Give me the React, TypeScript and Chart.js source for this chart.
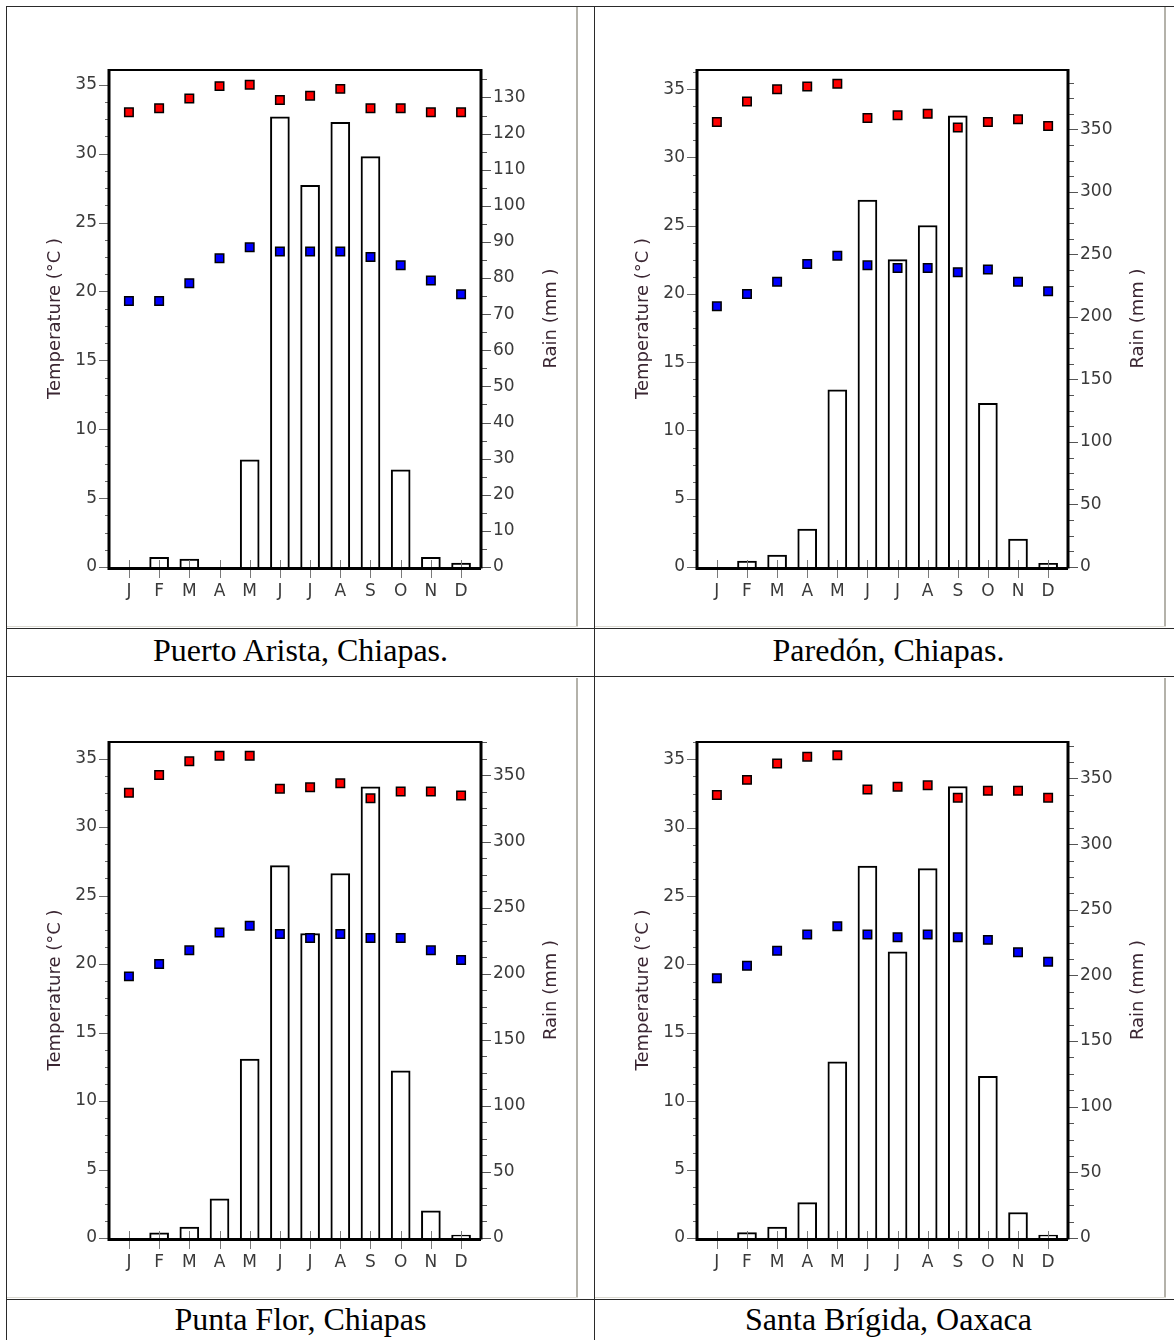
import React, { useEffect, useRef } from 'react';
import { Chart, registerables } from 'chart.js';

Chart.register(...registerables);

// ---------- data ----------
const months = ['J', 'F', 'M', 'A', 'M', 'J', 'J', 'A', 'S', 'O', 'N', 'D'];
const monthNumbers = [1, 2, 3, 4, 5, 6, 7, 8, 9, 10, 11, 12];

const tempTicks = [0, 5, 10, 15, 20, 25, 30, 35];
const rainTicksSmall = [0, 10, 20, 30, 40, 50, 60, 70, 80, 90, 100, 110, 120, 130];
const rainTicksLarge = [0, 50, 100, 150, 200, 250, 300, 350];

const puertoAristaTmax = [33.0, 33.3, 34.0, 34.9, 35.0, 33.9, 34.2, 34.7, 33.3, 33.3, 33.0, 33.0];
const puertoAristaTmin = [19.3, 19.3, 20.6, 22.4, 23.2, 22.9, 22.9, 22.9, 22.5, 21.9, 20.8, 19.8];
const puertoAristaRain = [0, 2.7, 2.2, 0, 29.7, 124.6, 105.7, 123.1, 113.6, 26.9, 2.7, 1.1];

const paredonTmax = [32.6, 34.1, 35.0, 35.2, 35.4, 32.9, 33.1, 33.2, 32.2, 32.6, 32.8, 32.3];
const paredonTmin = [19.1, 20.0, 20.9, 22.2, 22.8, 22.1, 21.9, 21.9, 21.6, 21.8, 20.9, 20.2];
const paredonRain = [0, 4.8, 9.6, 30.3, 141.8, 293.4, 245.9, 273.1, 360.9, 130.9, 22.3, 2.9];

const puntaFlorTmax = [32.5, 33.8, 34.8, 35.2, 35.2, 32.8, 32.9, 33.2, 32.1, 32.6, 32.6, 32.3];
const puntaFlorTmin = [19.1, 20.0, 21.0, 22.3, 22.8, 22.2, 21.9, 22.2, 21.9, 21.9, 21.0, 20.3];
const puntaFlorRain = [0, 4.0, 8.3, 29.7, 135.4, 281.8, 230.4, 275.8, 341.4, 126.4, 20.6, 2.3];

const santaBrigidaTmax = [32.4, 33.5, 34.7, 35.2, 35.3, 32.8, 33.0, 33.1, 32.2, 32.7, 32.7, 32.2];
const santaBrigidaTmin = [19.0, 19.9, 21.0, 22.2, 22.8, 22.2, 22.0, 22.2, 22.0, 21.8, 20.9, 20.2];
const santaBrigidaRain = [0, 4.1, 8.4, 27.0, 134.2, 283.3, 217.9, 281.3, 343.9, 123.2, 19.4, 2.3];

const stationNames = ['Puerto Arista, Chiapas.', 'Paredón, Chiapas.', 'Punta Flor, Chiapas', 'Santa Brígida, Oaxaca'];
const tempAxisMax = [36.07, 36.41, 36.21, 36.27];
const rainAxisMax = [137.6, 397.5, 375.3, 377.8];

// ---------- layout ----------
type Station = {
  tmax: number[];
  tmin: number[];
  rain: number[];
  tempMax: number;
  rainMax: number;
  rainTicks: number[];
  rainMinorStep: number;
  canvas: [number, number, number, number];
  plot: [number, number, number, number];
};

const stations: Station[] = [
  { tmax: puertoAristaTmax, tmin: puertoAristaTmin, rain: puertoAristaRain, tempMax: tempAxisMax[0], rainMax: rainAxisMax[0], rainTicks: rainTicksSmall, rainMinorStep: 5, canvas: [8, 8, 568, 618], plot: [109, 70, 481, 567] },
  { tmax: paredonTmax, tmin: paredonTmin, rain: paredonRain, tempMax: tempAxisMax[1], rainMax: rainAxisMax[1], rainTicks: rainTicksLarge, rainMinorStep: 12.5, canvas: [596, 8, 568, 618], plot: [697, 70, 1068, 567] },
  { tmax: puntaFlorTmax, tmin: puntaFlorTmin, rain: puntaFlorRain, tempMax: tempAxisMax[2], rainMax: rainAxisMax[2], rainTicks: rainTicksLarge, rainMinorStep: 12.5, canvas: [8, 678, 568, 620], plot: [109, 742, 481, 1238] },
  { tmax: santaBrigidaTmax, tmin: santaBrigidaTmin, rain: santaBrigidaRain, tempMax: tempAxisMax[3], rainMax: rainAxisMax[3], rainTicks: rainTicksLarge, rainMinorStep: 12.5, canvas: [596, 678, 568, 620], plot: [697, 742, 1068, 1238] },
];

const TICK_FONT = { family: 'DejaVu Sans', size: 17 };
const TICK_COLOR = '#3a3a3a';
const TITLE_COLOR = '#3a2632';

function minorValues(step: number, max: number, majorStep: number): number[] {
  const out: number[] = [];
  for (let v = step; v <= max + 1e-9; v += step) {
    if (Math.abs(v / majorStep - Math.round(v / majorStep)) > 1e-6) out.push(v);
  }
  return out;
}

function ClimateChart({ s }: { s: Station }) {
  const ref = useRef<HTMLCanvasElement>(null);
  useEffect(() => {
    const [cx, cy, cw, ch] = s.canvas;
    const [pl, pt, pr, pb] = s.plot;
    const leftW = pl - cx;
    const rightW = cx + cw - pr;
    const padTop = pt - cy;
    const xH = cy + ch - pb;
    const rainMajorStep = s.rainTicks[1] - s.rainTicks[0];
    const tempMinor = minorValues(1.25, s.tempMax, 5);
    const rainMinor = minorValues(s.rainMinorStep, s.rainMax, rainMajorStep);

    const framePlugin = {
      id: 'climateFrame',
      afterDatasetsDraw(chart: any) {
        const { ctx, chartArea } = chart;
        const { left, right, top, bottom } = chartArea;
        const x = chart.scales.x;
        const y = chart.scales.y;
        const yR = chart.scales.yR;
        ctx.save();
        // month ticks
        ctx.strokeStyle = '#7a7a7a';
        ctx.lineWidth = 1;
        monthNumbers.forEach((m) => {
          const px = Math.round(x.getPixelForValue(m)) + 0.5;
          ctx.beginPath();
          ctx.moveTo(px, bottom - 7);
          ctx.lineTo(px, bottom + 11);
          ctx.stroke();
        });
        // left ticks
        ctx.strokeStyle = '#6a6a6a';
        tempTicks.forEach((v) => {
          const py = Math.round(y.getPixelForValue(v)) + 0.5;
          ctx.beginPath();
          ctx.moveTo(left - 10, py);
          ctx.lineTo(left, py);
          ctx.stroke();
        });
        tempMinor.forEach((v) => {
          const py = Math.round(y.getPixelForValue(v)) + 0.5;
          ctx.beginPath();
          ctx.moveTo(left - 4, py);
          ctx.lineTo(left, py);
          ctx.stroke();
        });
        // right ticks
        ctx.strokeStyle = '#555555';
        s.rainTicks.forEach((v) => {
          const py = Math.round(yR.getPixelForValue(v)) + 0.5;
          ctx.beginPath();
          ctx.moveTo(right, py);
          ctx.lineTo(right + 10, py);
          ctx.stroke();
        });
        rainMinor.forEach((v) => {
          const py = Math.round(yR.getPixelForValue(v)) + 0.5;
          ctx.beginPath();
          ctx.moveTo(right, py);
          ctx.lineTo(right + 6, py);
          ctx.stroke();
        });
        // frame
        ctx.strokeStyle = '#000';
        ctx.lineWidth = 2;
        ctx.beginPath();
        ctx.moveTo(left, top);
        ctx.lineTo(right, top);
        ctx.stroke();
        ctx.lineWidth = 3;
        ctx.beginPath();
        ctx.moveTo(left, top - 1);
        ctx.lineTo(left, bottom + 1.5);
        ctx.lineTo(right, bottom + 1.5);
        ctx.moveTo(right, top - 1);
        ctx.lineTo(right, bottom + 1.5);
        ctx.stroke();
        // axis titles
        ctx.fillStyle = TITLE_COLOR;
        ctx.font = '18px "DejaVu Sans"';
        ctx.textAlign = 'center';
        ctx.textBaseline = 'middle';
        const mid = (top + bottom) / 2;
        ctx.save();
        ctx.translate(left - 54, mid);
        ctx.rotate(-Math.PI / 2);
        ctx.fillText('Temperature (°C )', 0, 0);
        ctx.restore();
        ctx.save();
        ctx.translate(right + 70, mid);
        ctx.rotate(-Math.PI / 2);
        ctx.fillText('Rain (mm )', 0, 0);
        ctx.restore();
        ctx.restore();
      },
    };

    const zeroPad = (sc: any) => {
      sc.paddingLeft = 0;
      sc.paddingRight = 0;
      sc.paddingTop = 0;
      sc.paddingBottom = 0;
    };

    const chart = new Chart(ref.current as HTMLCanvasElement, {
      type: 'bar',
      data: {
        datasets: [
          {
            type: 'scatter',
            label: 'Tmax',
            data: s.tmax.map((v, i) => ({ x: monthNumbers[i], y: v })),
            yAxisID: 'y',
            pointStyle: 'rect',
            pointRadius: 6,
            pointHoverRadius: 6,
            backgroundColor: '#ff0000',
            borderColor: '#000000',
            borderWidth: 1.5,
            order: 0,
          } as any,
          {
            type: 'scatter',
            label: 'Tmin',
            data: s.tmin.map((v, i) => ({ x: monthNumbers[i], y: v })),
            yAxisID: 'y',
            pointStyle: 'rect',
            pointRadius: 6,
            pointHoverRadius: 6,
            backgroundColor: '#0000ff',
            borderColor: '#000000',
            borderWidth: 1.5,
            order: 0,
          } as any,
          {
            type: 'bar',
            label: 'Rain',
            data: s.rain.map((v, i) => ({ x: monthNumbers[i], y: v })),
            yAxisID: 'yR',
            backgroundColor: '#ffffff',
            borderColor: '#000000',
            borderWidth: 2,
            barThickness: 19,
            order: 1,
          } as any,
        ],
      },
      options: {
        responsive: false,
        animation: false,
        events: [],
        layout: { padding: { top: padTop, left: 0, right: 0, bottom: 0 } },
        plugins: { legend: { display: false }, tooltip: { enabled: false }, title: { display: false } },
        scales: {
          x: {
            type: 'linear',
            position: 'bottom',
            min: 1 - 0.66,
            max: 12 + 0.66,
            offset: false,
            grid: { display: false, drawTicks: false },
            border: { display: false },
            afterBuildTicks: (sc: any) => {
              sc.ticks = monthNumbers.map((v) => ({ value: v }));
            },
            afterFit: (sc: any) => {
              sc.height = xH;
              zeroPad(sc);
            },
            ticks: {
              autoSkip: false,
              maxRotation: 0,
              minRotation: 0,
              padding: 14,
              color: TICK_COLOR,
              font: TICK_FONT,
              callback: (v: any) => months[Number(v) - 1] ?? '',
            },
          },
          y: {
            type: 'linear',
            position: 'left',
            min: 0,
            max: s.tempMax,
            grid: { display: false, drawTicks: false },
            border: { display: false },
            afterBuildTicks: (sc: any) => {
              sc.ticks = tempTicks.map((v) => ({ value: v }));
            },
            afterFit: (sc: any) => {
              sc.width = leftW;
              zeroPad(sc);
            },
            ticks: { autoSkip: false, padding: 12, color: TICK_COLOR, font: TICK_FONT, callback: (v: any) => String(v) },
          },
          yR: {
            type: 'linear',
            position: 'right',
            min: 0,
            max: s.rainMax,
            grid: { display: false, drawTicks: false },
            border: { display: false },
            afterBuildTicks: (sc: any) => {
              sc.ticks = s.rainTicks.map((v) => ({ value: v }));
            },
            afterFit: (sc: any) => {
              sc.width = rightW;
              zeroPad(sc);
            },
            ticks: { autoSkip: false, padding: 12, color: TICK_COLOR, font: TICK_FONT, callback: (v: any) => String(v) },
          },
        },
      } as any,
      plugins: [framePlugin],
    });
    return () => chart.destroy();
  }, [s]);

  const [cx, cy, cw, ch] = s.canvas;
  return (
    <canvas
      ref={ref}
      width={cw}
      height={ch}
      style={{ position: 'absolute', left: cx, top: cy, width: cw, height: ch }}
    />
  );
}

const line = (left: number, top: number, width: number, height: number, color: string) => (
  <div style={{ position: 'absolute', left, top, width, height, background: color }} />
);

export default function App() {
  const tableColor = '#2a2a2a';
  const edge = '#b4b2aa';
  const edgeLight = '#dcdad2';
  const captionStyle = (left: number, top: number, width: number, height: number): React.CSSProperties => ({
    position: 'absolute',
    left,
    top,
    width,
    height,
    display: 'flex',
    alignItems: 'center',
    justifyContent: 'center',
    fontFamily: '"Liberation Serif", "Times New Roman", serif',
    fontSize: 32,
    color: '#000',
    whiteSpace: 'nowrap',
  });
  return (
    <div style={{ position: 'absolute', left: 0, top: 0, width: 1174, height: 1340, overflow: 'hidden', background: '#fff' }}>
      {/* image edges */}
      {line(576, 7, 2, 620, edge)}
      {line(1164, 7, 2, 620, edge)}
      {line(7, 626, 571, 1, edgeLight)}
      {line(595, 626, 571, 1, edgeLight)}
      {line(576, 678, 2, 620, edge)}
      {line(1164, 678, 2, 620, edge)}
      {line(7, 1297, 571, 1, edgeLight)}
      {line(595, 1297, 571, 1, edgeLight)}
      {/* table lines */}
      {line(6, 6, 1168, 1, tableColor)}
      {line(6, 6, 1, 1334, tableColor)}
      {line(594, 6, 1, 1334, tableColor)}
      {line(6, 628, 1168, 1, tableColor)}
      {line(6, 676, 1168, 1, tableColor)}
      {line(6, 1299, 1168, 1, tableColor)}
      {stations.map((s, i) => (
        <ClimateChart key={i} s={s} />
      ))}
      <div style={captionStyle(7, 627, 587, 47)}>{stationNames[0]}</div>
      <div style={captionStyle(595, 627, 587, 47)}>{stationNames[1]}</div>
      <div style={captionStyle(7, 1299, 587, 40)}>{stationNames[2]}</div>
      <div style={captionStyle(595, 1299, 587, 40)}>{stationNames[3]}</div>
    </div>
  );
}
